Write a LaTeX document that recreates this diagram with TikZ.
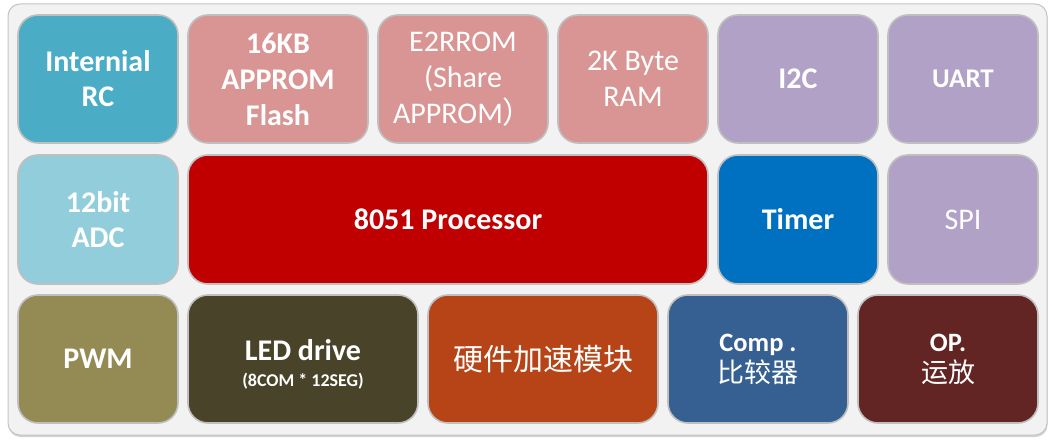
\documentclass[tikz,border=0pt]{standalone}
\usepackage{fontspec}
\setmainfont{Carlito}
\newfontfamily\cjk{Noto Sans CJK SC}
\usetikzlibrary{shadows}
\definecolor{frameFill}{HTML}{F2F2F2}
\definecolor{frameLine}{HTML}{C4C4C4}
\definecolor{blkLine}{HTML}{BFBFBF}
\definecolor{cRC}{HTML}{4BACC6}
\definecolor{cMem}{HTML}{D99594}
\definecolor{cPer}{HTML}{B2A1C7}
\definecolor{cADC}{HTML}{92CDDC}
\definecolor{cCPU}{HTML}{C00000}
\definecolor{cTim}{HTML}{0070C0}
\definecolor{cPWM}{HTML}{948A54}
\definecolor{cLED}{HTML}{494429}
\definecolor{cHW}{HTML}{B64417}
\definecolor{cCmp}{HTML}{366092}
\definecolor{cOP}{HTML}{632523}
\tikzset{
  blk/.style={draw=blkLine, line width=1.6pt, rounded corners=20pt, text=white,
    align=center, inner sep=0pt, font=\bfseries\fontsize{30}{36}\selectfont},
  blkreg/.style={blk, font=\fontsize{30}{36}\selectfont},
  txt/.style={text=white, align=center, inner sep=0pt},
}
\begin{document}
\begin{tikzpicture}[x=1pt,y=-1pt]
\useasboundingbox (0,0) rectangle (1055,444);
\fill[white] (0,0) rectangle (1055,444);
\node[draw=frameLine, fill=frameFill, line width=1pt, rounded corners=12pt,
  minimum width=1039pt, minimum height=431pt, inner sep=0pt,
  drop shadow={shadow xshift=0.5pt, shadow yshift=-2pt, opacity=0.35}] (frame) at (527.5,219.5) {};
% row 1
\node[blk, fill=cRC, minimum width=160pt, minimum height=128pt, font=\bfseries\fontsize{30}{35}\selectfont] (rc) at (98,79) {Internial\\RC};
\node[blk, fill=cMem, minimum width=180pt, minimum height=128pt] (flash) at (278,79) {16KB\\APPROM\\Flash};
\node[blkreg, fill=cMem, minimum width=170pt, minimum height=128pt] (eep) at (463,79) {E2RROM\\(Share\\APPROM{\cjk ）}};
\node[blkreg, fill=cMem, minimum width=150pt, minimum height=128pt] (ram) at (633,79) {2K Byte\\RAM};
\node[blk, fill=cPer, minimum width=160pt, minimum height=128pt] (i2c) at (798,79) {I2C};
\node[blk, fill=cPer, minimum width=150pt, minimum height=128pt, font=\bfseries\fontsize{27}{30}\selectfont] (uart) at (963,79) {UART};
% row 2
\node[blk, fill=cADC, minimum width=160pt, minimum height=129pt, font=\bfseries\fontsize{30}{35}\selectfont] (adc) at (98,219.5) {12bit\\ADC};
\node[blk, fill=cCPU, minimum width=520pt, minimum height=129pt] (cpu) at (448,219.5) {8051 Processor};
\node[blk, fill=cTim, minimum width=160pt, minimum height=129pt] (tim) at (798,219.5) {Timer};
\node[blkreg, fill=cPer, minimum width=150pt, minimum height=129pt] (spi) at (963,219.5) {SPI};
% row 3
\node[blk, fill=cPWM, minimum width=160pt, minimum height=128pt] (pwm) at (98,359) {PWM};
\node[blk, fill=cLED, minimum width=230pt, minimum height=128pt] (led) at (303,359) {};
\node[txt, font=\bfseries\fontsize{30}{30}\selectfont, anchor=base] (ledA) at (303,360) {LED drive};
\node[txt, font=\bfseries\fontsize{18}{20}\selectfont, anchor=base] (ledB) at (303,386) {(8COM * 12SEG)};
\node[blk, fill=cHW, minimum width=230pt, minimum height=128pt, font=\cjk\fontsize{30}{34}\selectfont] (hw) at (543,359) {硬件加速模块};
\node[blk, fill=cCmp, minimum width=180pt, minimum height=128pt] (cmp) at (758,359) {};
\node[txt, font=\bfseries\fontsize{26.5}{28}\selectfont, anchor=base] (cmpA) at (758,351) {Comp .};
\node[txt, font=\cjk\fontsize{27}{30}\selectfont, anchor=base] (cmpB) at (758,382) {比较器};
\node[blk, fill=cOP, minimum width=180pt, minimum height=128pt] (op) at (948,359) {};
\node[txt, font=\bfseries\fontsize{26.5}{28}\selectfont, anchor=base] (opA) at (948,351) {OP.};
\node[txt, font=\cjk\fontsize{27}{30}\selectfont, anchor=base] (opB) at (948,382) {运放};
\end{tikzpicture}
\end{document}
